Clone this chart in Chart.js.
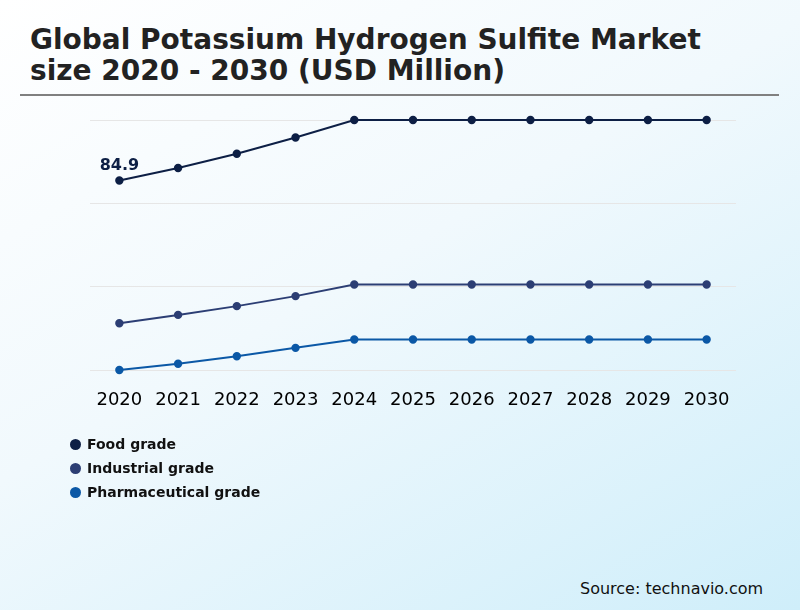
<!DOCTYPE html>
<html>
<head>
<meta charset="utf-8">
<script src="https://cdn.jsdelivr.net/npm/chart.js@4"></script>
<style>
  html, body { margin: 0; padding: 0; }
  body {
    width: 800px; height: 610px; overflow: hidden; position: relative;
    font-family: "DejaVu Sans", sans-serif;
    background: linear-gradient(150deg, #ffffff 0%, #f1f9fd 45%, #cfeefa 100%);
  }
  #title {
    position: absolute; left: 30px; top: 24px; margin: 0;
    font-size: 28px; font-weight: bold; line-height: 31px; color: #222;
  }
  #rule { position: absolute; left: 20px; top: 94px; width: 759px; height: 2px; background: #808080; }
  #wrap { position: absolute; left: 0; top: 100px; width: 800px; height: 340px; }
  #legend { position: absolute; left: 70px; top: 432px; }
  .item { height: 24px; font-size: 14px; font-weight: bold; color: #111; display: flex; align-items: center; }
  .dot { width: 11px; height: 11px; border-radius: 50%; margin-right: 6px; }
  #source { position: absolute; left: 580px; top: 579px; font-size: 16px; color: #111; }
</style>
</head>
<body>
<h1 id="title">Global Potassium Hydrogen Sulfite Market<br>size 2020 - 2030 (USD Million)</h1>
<div id="rule"></div>
<div id="wrap"><canvas id="chart" width="800" height="340"></canvas></div>
<div id="legend"></div>
<div id="source">Source: technavio.com</div>
<script>
var years = ["2020", "2021", "2022", "2023", "2024", "2025", "2026", "2027", "2028", "2029", "2030"];
var foodGrade = [84.9, 87.9, 91.3, 95.2, 99.4, 99.4, 99.4, 99.4, 99.4, 99.4, 99.4];
var industrialGrade = [50.7, 52.7, 54.8, 57.2, 60.0, 60.0, 60.0, 60.0, 60.0, 60.0, 60.0];
var pharmaGrade = [39.5, 41.0, 42.8, 44.8, 46.8, 46.8, 46.8, 46.8, 46.8, 46.8, 46.8];
var gridValues = [39.4, 59.4, 79.4, 99.4];

var series = [
  { label: "Food grade", data: foodGrade, color: "#0d1f45" },
  { label: "Industrial grade", data: industrialGrade, color: "#2c3e74" },
  { label: "Pharmaceutical grade", data: pharmaGrade, color: "#0b58a6" }
];

// label on the first food grade point
var firstLabel = {
  id: "firstLabel",
  afterDatasetsDraw: function(chart) {
    var ctx = chart.ctx;
    var pt = chart.getDatasetMeta(0).data[0];
    ctx.save();
    ctx.font = "bold 16px 'DejaVu Sans'";
    ctx.fillStyle = "#0d1f45";
    ctx.textAlign = "center";
    ctx.textBaseline = "bottom";
    ctx.fillText(foodGrade[0].toFixed(1), pt.x, pt.y - 7);
    ctx.restore();
  }
};

new Chart(document.getElementById("chart"), {
  type: "line",
  data: {
    labels: years,
    datasets: series.map(function(s) {
      return {
        label: s.label,
        data: s.data,
        borderColor: s.color,
        backgroundColor: s.color,
        borderWidth: 2,
        pointRadius: 3.2,
        pointHoverRadius: 3.2,
        tension: 0,
        clip: false
      };
    })
  },
  options: {
    responsive: false,
    animation: false,
    devicePixelRatio: 1,
    layout: { padding: { left: 90, right: 64, top: 20, bottom: 18 } },
    plugins: { legend: { display: false }, tooltip: { enabled: false } },
    scales: {
      x: {
        offset: true,
        grid: { display: false },
        border: { display: false },
        ticks: { color: "#000", font: { size: 18, family: "DejaVu Sans" }, padding: 11, maxRotation: 0, autoSkip: false }
      },
      y: {
        min: gridValues[0],
        max: gridValues[gridValues.length - 1],
        afterBuildTicks: function(axis) {
          axis.ticks = gridValues.map(function(v) { return { value: v }; });
        },
        grid: { color: "#e6e6e6", lineWidth: 1, drawTicks: false },
        border: { display: false },
        ticks: { display: false }
      }
    }
  },
  plugins: [firstLabel]
});

var legend = document.getElementById("legend");
series.forEach(function(s) {
  legend.innerHTML += '<div class="item"><span class="dot" style="background:' + s.color + '"></span>' + s.label + '</div>';
});
</script>
</body>
</html>
